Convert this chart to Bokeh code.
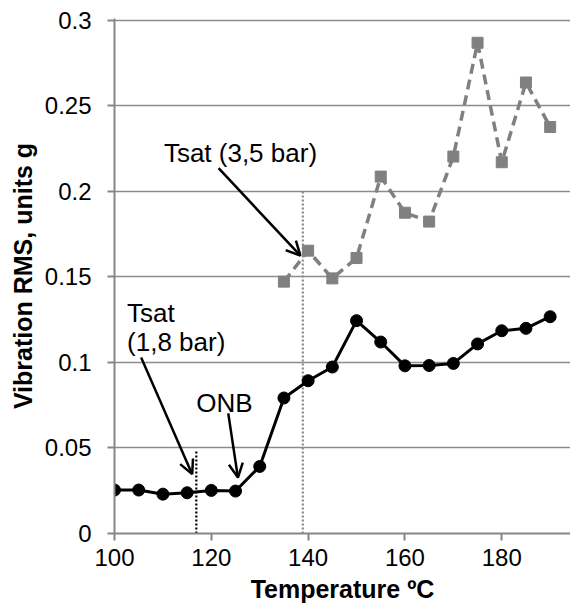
from bokeh.plotting import figure
from bokeh.models import Range1d, FixedTicker, Arrow, OpenHead, Label
from bokeh.embed import file_html
from bokeh.resources import INLINE

# ---- data ----
temps_18bar = [100, 105, 110, 115, 120, 125, 130, 135, 140, 145, 150, 155, 160, 165, 170, 175, 180, 185, 190]
rms_18bar = [0.0254, 0.0254, 0.0230, 0.0238, 0.0252, 0.0248, 0.0392, 0.0792, 0.0893, 0.0973,
             0.1244, 0.1119, 0.0980, 0.0982, 0.0994, 0.1108, 0.1185, 0.1199, 0.1267]
temps_35bar = [135, 140, 145, 150, 155, 160, 165, 170, 175, 180, 185, 190]
rms_35bar = [0.1472, 0.1653, 0.1491, 0.1610, 0.2086, 0.1875, 0.1823, 0.2203, 0.2868, 0.2170, 0.2636, 0.2376]

tsat_18bar = 116.9   # saturation temperature at 1,8 bar
tsat_35bar = 138.9   # saturation temperature at 3,5 bar
tsat_18bar_top = 0.048
tsat_35bar_top = 0.200

x_ticks = [100, 120, 140, 160, 180]
y_ticks = [0, 0.05, 0.1, 0.15, 0.2, 0.25, 0.3]
y_tick_labels = ["0", "0.05", "0.1", "0.15", "0.2", "0.25", "0.3"]

FONT = "Liberation Sans"
AXIS_COLOR = "#868686"
GRID_COLOR = "#8c8c8c"

p = figure(width=570, height=615,
           x_range=Range1d(100, 194.2), y_range=Range1d(0, 0.301),
           output_backend="svg", toolbar_location=None,
           min_border_left=114, min_border_right=0,
           min_border_top=18, min_border_bottom=82)
p.outline_line_color = None
p.background_fill_color = "white"
p.border_fill_color = "white"

# grid
p.xgrid.grid_line_color = None
p.ygrid.ticker = FixedTicker(ticks=y_ticks)
p.ygrid.grid_line_color = GRID_COLOR
p.ygrid.grid_line_width = 1.5

# axes
p.xaxis.ticker = FixedTicker(ticks=x_ticks)
p.yaxis.ticker = FixedTicker(ticks=y_ticks)
p.yaxis.major_label_overrides = {t: s for t, s in zip(y_ticks, y_tick_labels)}
for ax in (p.xaxis[0], p.yaxis[0]):
    ax.axis_line_color = AXIS_COLOR
    ax.axis_line_width = 2
    ax.major_tick_line_color = AXIS_COLOR
    ax.major_tick_line_width = 2
    ax.major_tick_in = 0
    ax.major_tick_out = 7
    ax.minor_tick_line_color = None
    ax.major_label_text_font = FONT
    ax.major_label_text_font_size = "24px"
    ax.major_label_text_color = "black"
    ax.axis_label_text_font = FONT
    ax.axis_label_text_font_size = "25px"
    ax.axis_label_text_font_style = "bold"
    ax.axis_label_text_color = "black"

p.xaxis.axis_label = "Temperature ºC"
p.yaxis.axis_label = "Vibration RMS, units g"
p.xaxis.major_label_standoff = 8
p.yaxis.major_label_standoff = 16
p.xaxis.axis_label_standoff = 6
p.yaxis.axis_label_standoff = 5

# saturation temperature markers (dotted verticals)
p.segment(x0=[tsat_18bar], y0=[0], x1=[tsat_18bar], y1=[tsat_18bar_top],
          line_color="black", line_width=2.2, line_dash="2 2")
p.segment(x0=[tsat_35bar], y0=[0], x1=[tsat_35bar], y1=[tsat_35bar_top],
          line_color="#8a8a8a", line_width=2.2, line_dash="2 2")

# 3,5 bar series (grey dashed squares)
p.line(temps_35bar, rms_35bar, line_color="#808080", line_width=3.5, line_dash="10 6")
p.scatter(temps_35bar, rms_35bar, marker="square", size=11,
          fill_color="#808080", line_color="#808080")

# 1,8 bar series (black solid circles)
p.line(temps_18bar, rms_18bar, line_color="black", line_width=3)
p.scatter(temps_18bar, rms_18bar, marker="circle", size=12,
          fill_color="black", line_color="black")

# annotations
def add_arrow(xs, ys, xe, ye):
    p.add_layout(Arrow(end=OpenHead(size=14, line_width=2.5, line_color="black"),
                       x_start=xs, y_start=ys, x_end=xe, y_end=ye,
                       line_color="black", line_width=2.5))

add_arrow(121.5, 0.2135, 138.4, 0.1624)
add_arrow(105.5, 0.1029, 116.05, 0.0347)
add_arrow(123.5, 0.0702, 125.5, 0.0327)

def add_label(x, y, txt):
    p.add_layout(Label(x=x, y=y, text=txt, text_font=FONT, text_font_size="26px",
                       text_color="black", text_baseline="alphabetic", text_align="left"))

add_label(110.2, 0.2225, "Tsat (3,5 bar)")
add_label(102.6, 0.1289, "Tsat")
add_label(102.6, 0.1117, "(1,8 bar)")
add_label(116.9, 0.0760, "ONB")

open("out.html", "w").write(file_html(p, INLINE))
